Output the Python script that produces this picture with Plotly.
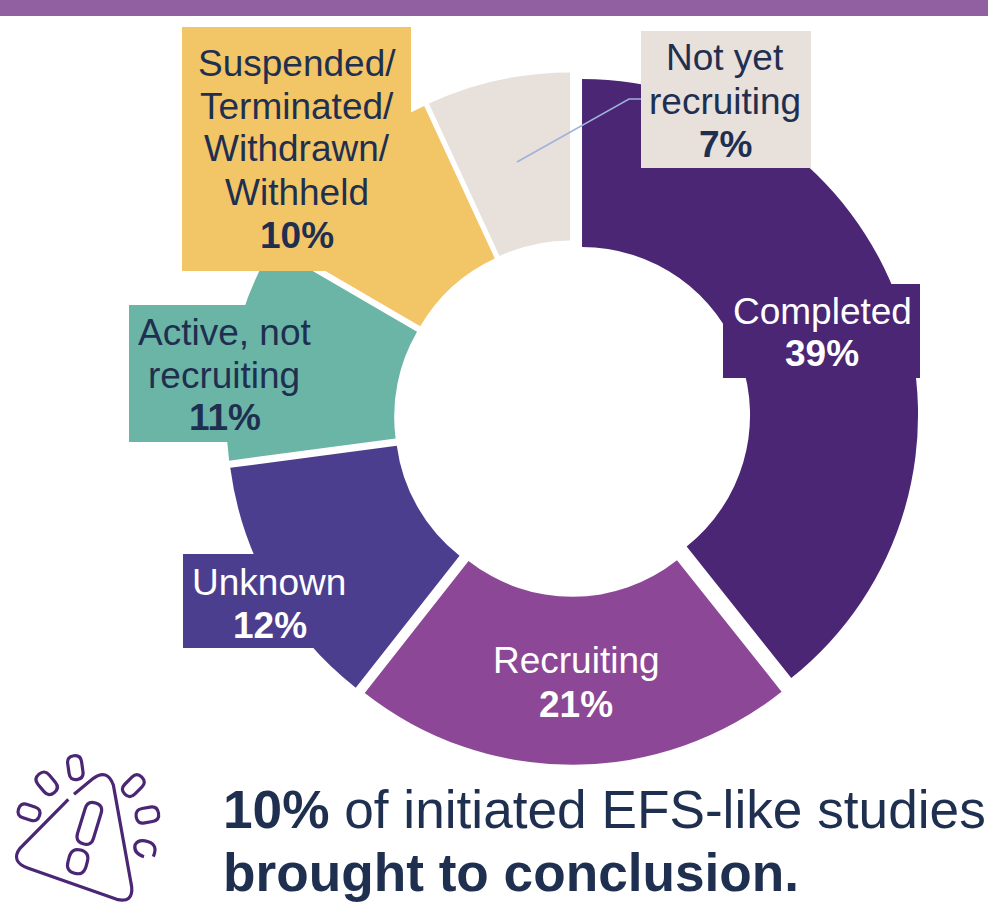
import math
import plotly.graph_objects as go

W, H = 988, 910
categories = ["Completed", "Recruiting", "Unknown", "Active, not recruiting",
              "Suspended/Terminated/Withdrawn/Withheld", "Not yet recruiting"]
values = [39.3, 21.3, 12.3, 10.5, 9.7, 6.9]
colors = ["#4A2674", "#8C4896", "#4C3E8F", "#6BB5A6", "#F2C566", "#E7E0DB"]
NAVY = "#1F2F50"
PURPLE = "#4A2674"

def px(x): return x / W
def py(y): return 1 - y / H
def P(x, y): return f"{px(x):.5f} {py(y):.5f}"

R = 336
pull = 0.0307
half = R * (1 + pull)
cx, cy = 572.3, 418.5

fig = go.Figure(go.Pie(
    labels=categories, values=values, sort=False, direction="clockwise", rotation=0,
    hole=0.5, pull=pull, textinfo="none", hoverinfo="label", showlegend=False,
    marker=dict(colors=colors, line=dict(width=0)),
    domain=dict(x=[px(cx - half), px(cx + half)], y=[py(cy + half), py(cy - half)]),
))

shapes = []
def rect(x0, y0, x1, y1, color):
    shapes.append(dict(type="rect", xref="paper", yref="paper", x0=px(x0), x1=px(x1),
                       y0=py(y1), y1=py(y0), fillcolor=color, line=dict(width=0)))

rect(0, 0, W, 16, "#9160A0")
rect(641, 31, 811, 168, colors[5])
rect(182, 27, 411, 271, colors[4])
rect(129, 305, 320, 442, colors[3])
rect(183, 554, 355, 648, colors[2])
rect(723, 284, 920, 378, colors[0])

def path(d, color=PURPLE, w=3.2):
    shapes.append(dict(type="path", xref="paper", yref="paper", path=d, line=dict(color=color, width=w)))

path(f"M{P(517,162)} L{P(629,99)} L{P(641,99)}", "#9DB2DC", 1.5)

# icon, drawn in the 3x zoom coordinates
def Z(x, y): return P(x / 3, y / 3 + 740)
path(f"M{Z(222,163)} L{Z(280,115)} Q{Z(322,85)} {Z(340,135)} L{Z(395,440)} Q{Z(400,490)} {Z(350,478)} "
     f"L{Z(85,385)} Q{Z(30,365)} {Z(60,325)} L{Z(205,178)}")
path(f"M{Z(432,350)} Q{Z(400,340)} {Z(405,315)} Q{Z(415,295)} {Z(445,305)} Q{Z(475,315)} {Z(460,350)}")

def rrect(cxz, cyz, w, h, deg):
    a = math.radians(deg)
    c, s = math.cos(a), math.sin(a)
    def T(u, v): return Z(cxz + u * c - v * s, cyz + u * s + v * c)
    hw, hh = w / 2, h / 2
    r = min(hw, hh) * 1.0
    return (f"M{T(-hw + r, -hh)} L{T(hw - r, -hh)} Q{T(hw, -hh)} {T(hw, -hh + r)} "
            f"L{T(hw, hh - r)} Q{T(hw, hh)} {T(hw - r, hh)} L{T(-hw + r, hh)} "
            f"Q{T(-hw, hh)} {T(-hw, hh - r)} L{T(-hw, -hh + r)} Q{T(-hw, -hh)} {T(-hw + r, -hh)} Z")

for args in [(226, 83, 42, 72, -8), (140, 130, 44, 72, -40), (87, 217, 42, 66, -72),
             (400, 137, 42, 72, 45), (442, 225, 44, 68, 80),
             (268, 250, 50, 128, 17), (233, 365, 56, 72, 15)]:
    path(rrect(*args))

annotations = []
def text(x, y, s, size=37, color=NAVY, anchor="center", bold=False):
    annotations.append(dict(xref="paper", yref="paper", x=px(x), y=py(y), xanchor=anchor, yanchor="middle",
                            text=f"<b>{s}</b>" if bold else s, showarrow=False,
                            font=dict(family="Liberation Sans", size=size, color=color)))

text(725, 58, "Not yet")
text(725, 101, "recruiting")
text(725, 144, "7%", bold=True)
for y, s in zip([64, 106, 149, 192], ["Suspended/", "Terminated/", "Withdrawn/", "Withheld"]):
    text(297, y, s)
text(297, 236, "10%", bold=True)
text(224, 332, "Active, not")
text(224, 375, "recruiting")
text(225, 418, "11%", bold=True)
text(269, 582, "Unknown", color="white")
text(270, 625, "12%", color="white", bold=True)
text(822, 311, "Completed", color="white")
text(822, 354, "39%", color="white", bold=True)
text(576, 660, "Recruiting", color="white")
text(576, 704, "21%", color="white", bold=True)
text(221, 809, "<b>10%</b> of initiated EFS-like studies", size=53.2, anchor="left")
text(221, 872, "<b>brought to conclusion.</b>", size=53.2, anchor="left")

fig.update_layout(width=W, height=H, margin=dict(l=0, r=0, t=0, b=0), paper_bgcolor="white",
                  shapes=shapes, annotations=annotations)
fig.write_html("out.html", config=dict(displayModeBar=False),
               post_script="document.body.style.margin='0';document.documentElement.style.overflow='hidden';")
